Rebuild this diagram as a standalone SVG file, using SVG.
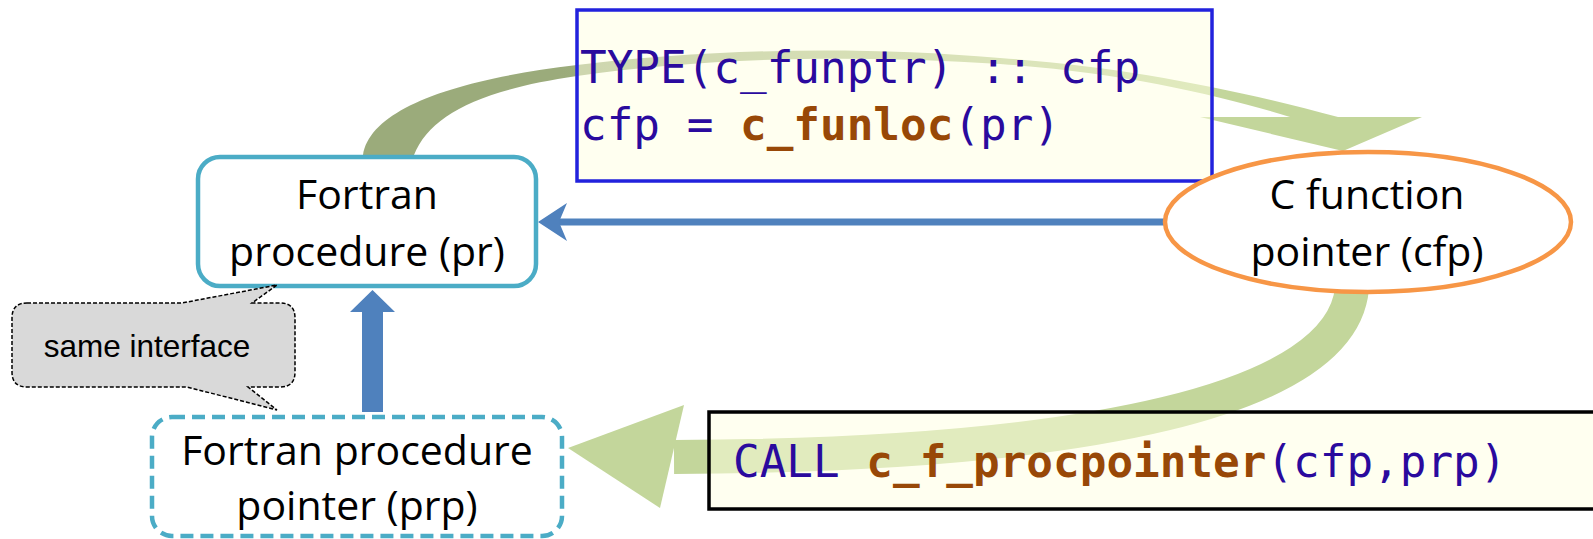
<svg xmlns="http://www.w3.org/2000/svg" width="1593" height="539" viewBox="0 0 1593 539">
<defs>
<linearGradient id="gTop" gradientUnits="userSpaceOnUse" x1="560" y1="0" x2="1220" y2="0">
<stop offset="0" stop-color="#9BAB7B"/>
<stop offset="1" stop-color="#C3D69B"/>
</linearGradient>
</defs>
<style>
.lbl{font-family:"Open Sans","Noto Sans",sans-serif;font-size:41px;fill:#000;text-anchor:middle}
.code{font-family:"DejaVu Sans Mono","Liberation Mono",monospace;font-size:44.3px;fill:#2A0A9E}
.kw{font-weight:bold;fill:#984807}
.codebox{fill:#FFFFE1;fill-opacity:0.5}
.green{fill:#C3D69B}
.blue{fill:#4F81BD}
</style>
<g id="connectors">
<path id="arc-top" fill="url(#gTop)" d="M363,155 C370,110 450,80 577,65 C700,50 850,45 1000,58 C1120,66 1240,90 1338,117 L1290,117 C1220,95 1120,72 1000,64 C850,54 700,58 577,76 C480,90 430,115 414,155 Z"/>
<path id="arc-top-head" class="green" d="M1200,117 L1422,117 L1343,151 Z"/>
<path id="arc-bottom" fill="none" stroke="#C3D69B" stroke-width="34" d="M1352,288 C1342,400 1090,455 674,457"/>
<path id="arc-bottom-head" class="green" d="M684,405 L568,448 L660,508 Z"/>
<path id="blue-h-line" fill="none" stroke="#4F81BD" stroke-width="7" d="M1166,222 L555,222"/>
<path id="blue-h-head" class="blue" d="M538,222 L567,203 L559,222 L567,241 Z"/>
<path id="blue-up" class="blue" d="M362,412 L362,312 L350,312 L372.5,290 L395,312 L383,312 L383,412 Z"/>
</g>
<g id="code-top">
<rect class="codebox" x="577" y="10" width="635" height="171" stroke="#2222DD" stroke-width="3.5"/>
<text class="code" x="580" y="83">TYPE(c_funptr) :: cfp</text>
<text class="code" x="580" y="140">cfp = <tspan class="kw">c_funloc</tspan>(pr)</text>
</g>
<g id="code-bottom">
<rect class="codebox" x="709" y="412" width="900" height="97" stroke="#000" stroke-width="3.5"/>
<text class="code" x="733" y="477">CALL <tspan class="kw">c_f_procpointer</tspan>(cfp,prp)</text>
</g>
<g id="node-pr">
<rect x="198" y="157" width="338" height="129" rx="22" fill="#fff" stroke="#4BACC6" stroke-width="4.5"/>
<text class="lbl" x="367" y="209">Fortran</text>
<text class="lbl" x="367" y="266">procedure (pr)</text>
</g>
<g id="node-cfp">
<ellipse cx="1368" cy="222" rx="203" ry="70" fill="#fff" stroke="#F79646" stroke-width="4.5"/>
<text class="lbl" x="1367" y="209">C function</text>
<text class="lbl" x="1367" y="266">pointer (cfp)</text>
</g>
<g id="node-prp">
<rect x="152" y="417" width="410" height="119" rx="20" fill="#fff" stroke="#4BACC6" stroke-width="4.5" stroke-dasharray="13 7"/>
<text class="lbl" x="357" y="465">Fortran procedure</text>
<text class="lbl" x="357" y="520">pointer (prp)</text>
</g>
<g id="callout">
<path d="M27,303 L182,303 L277,285 L252,303 L280,303 Q295,303 295,318 L295,372 Q295,387 280,387 L248,387 L277,410 L187,387 L27,387 Q12,387 12,372 L12,318 Q12,303 27,303 Z" fill="#D9D9D9" stroke="#000" stroke-width="1.5" stroke-dasharray="4 2"/>
<text x="147" y="357" font-family="Liberation Sans, Arial, sans-serif" font-size="31.5" text-anchor="middle" fill="#000">same interface</text>
</g>
</svg>
